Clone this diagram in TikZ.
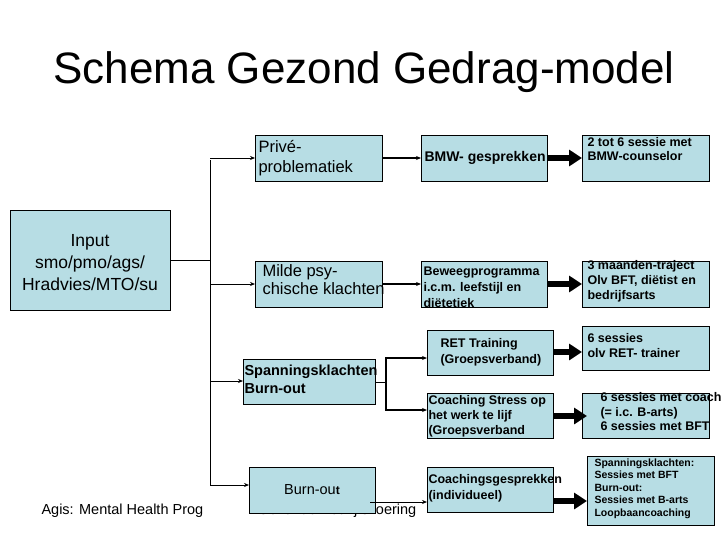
\documentclass[tikz,border=0pt]{standalone}
\usepackage{fontspec}
\setmainfont{Liberation Sans}
\usetikzlibrary{arrows.meta}
\definecolor{boxblue}{RGB}{183,221,228}
\tikzset{
  box/.style={draw, thick, fill=boxblue, inner sep=2pt},
  thin arrow/.style={-{Stealth[length=5pt, width=4pt]}, line width=0.7pt},
  mid arrow/.style={-{Stealth[length=5pt, width=4pt]}, line width=1.6pt},
  fat arrow/.style={-{Triangle[length=13pt, width=16pt]}, line width=6pt}
}
\begin{document}
\begin{tikzpicture}[x=1pt, y=-1pt]
\useasboundingbox (0,0) rectangle (728,546);
\node[font=\fontsize{44}{48}\selectfont] (title) at (364,72) {Schema Gezond Gedrag-model};
\node[font=\fontsize{14.5}{16}\selectfont, anchor=west] (agis) at (38,511) {Agis: Mental Health Prog};
\node[font=\fontsize{14.5}{16}\selectfont, anchor=west] (gezond) at (254,511) {Gezonde Bedrijfsvoering};
% boxes
\draw[box] (10,210) rectangle (170,310);
\node[align=center, font=\fontsize{17.5}{22}\selectfont] (input) at (90,263) {Input\\smo/pmo/ags/\\Hradvies/MTO/su};
\draw[box] (255,135) rectangle (382,181);
\node[anchor=north west, align=left, font=\fontsize{16.5}{20}\selectfont] (prive) at (255,137) {Privé-\\problematiek};
\draw[box] (421,135) rectangle (547,181);
\node[anchor=west, font=\bfseries\fontsize{14}{16}\selectfont] (bmw) at (421,158) {BMW- gesprekken};
\draw[box] (582,135) rectangle (709,181);
\node[anchor=north west, align=left, font=\bfseries\fontsize{12.5}{14}\selectfont] (bmwc) at (584,134) {2 tot 6 sessie met\\BMW-counselor};
\draw[box] (255,261) rectangle (382,307);
\node[anchor=north west, align=left, font=\fontsize{16.5}{18}\selectfont] (milde) at (259,261) {Milde psy-\\chische klachten};
\draw[box] (421,261) rectangle (547,307);
\node[anchor=north west, align=left, font=\bfseries\fontsize{12.5}{16}\selectfont] (beweeg) at (420,263) {Beweegprogramma\\i.c.m. leefstijl en\\diëtetiek};
\draw[box] (582,261) rectangle (709,307);
\node[anchor=north west, align=left, font=\bfseries\fontsize{12.5}{15}\selectfont] (traject) at (584,257) {3 maanden-traject\\Olv BFT, diëtist en\\bedrijfsarts};
\draw[box] (427,330) rectangle (553,375);
\node[anchor=west, align=left, font=\bfseries\fontsize{12.5}{16}\selectfont] (ret) at (437,352) {RET Training\\(Groepsverband)};
\draw[box] (582,326) rectangle (709,370);
\node[anchor=north west, align=left, font=\bfseries\fontsize{12.5}{15}\selectfont] (rets) at (584,330) {6 sessies\\olv RET- trainer};
\draw[box] (243,359) rectangle (375,404);
\node[anchor=north west, align=left, font=\bfseries\fontsize{14.5}{18}\selectfont] (spanning) at (241,361) {Spanningsklachten\\Burn-out};
\draw[box] (427,393) rectangle (553,438);
\node[anchor=north west, align=left, font=\bfseries\fontsize{12.5}{15}\selectfont] (stress) at (425,392) {Coaching Stress op\\het werk te lijf\\(Groepsverband};
\draw[box] (582,393) rectangle (709,438);
\node[anchor=north west, align=left, font=\bfseries\fontsize{12.5}{14.5}\selectfont] (coach) at (597,389) {6 sessies met coach\\(= i.c. B-arts)\\6 sessies met BFT};
\draw[box] (249,467) rectangle (375,513);
\node[font=\fontsize{14.5}{16}\selectfont] (burn) at (312,490) {Burn-ou\textbf{\large t}};
\draw[box] (427,467) rectangle (553,512);
\node[anchor=west, align=left, font=\bfseries\fontsize{12.5}{16}\selectfont] (gespr) at (425,488) {Coachingsgesprekken\\(individueel)};
\draw[box] (587,456) rectangle (714,525);
\node[anchor=north west, align=left, font=\bfseries\fontsize{10.5}{12.5}\selectfont] (final) at (591,455) {Spanningsklachten:\\Sessies met BFT\\Burn-out:\\Sessies met B-arts\\Loopbaancoaching};
% connectors
\draw[line width=0.7pt] (170,260) -- (210,260);
\draw[line width=0.7pt] (210,160) -- (210,485);
\draw[thin arrow] (210,158) -- (255,158);
\draw[thin arrow] (210,284) -- (255,284);
\draw[thin arrow] (210,381) -- (243,381);
\draw[thin arrow] (210,485) -- (249,485);
\draw[line width=0.7pt] (375,382) -- (386,382);
\draw[mid arrow] (386,410) -- (386,358) -- (427,358);
\draw[mid arrow] (386,405) |- (427,410);
\draw[mid arrow] (382,158) -- (421,158);
\draw[mid arrow] (382,284) -- (421,284);
\draw[thin arrow] (370,502) -- (427,502);
\draw[fat arrow] (547,158) -- (582,158);
\draw[fat arrow] (547,284) -- (582,284);
\draw[fat arrow] (553,352) -- (582,352);
\draw[fat arrow] (553,416) -- (587,416);
\draw[fat arrow] (553,501) -- (587,501);
\end{tikzpicture}
\end{document}
